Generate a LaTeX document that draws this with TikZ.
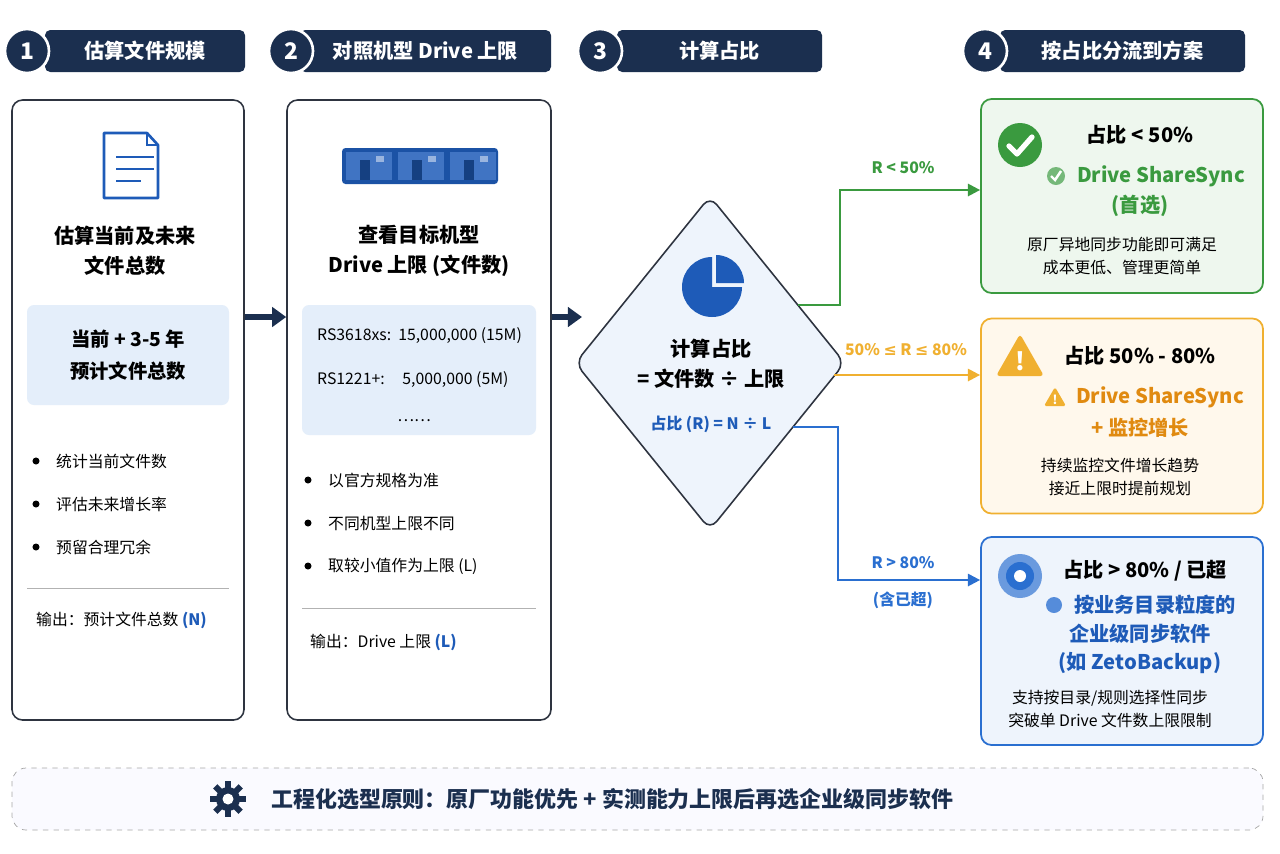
\documentclass[tikz,border=0pt]{standalone}
\usepackage{fontspec}
\setmainfont{Noto Sans CJK SC}
\newfontfamily\dejavu{DejaVu Sans}
\usetikzlibrary{shapes.geometric,arrows.meta}
\definecolor{navy}{HTML}{1B2F4F}
\definecolor{bord}{HTML}{2E3440}
\definecolor{lblue}{HTML}{E4EEFA}
\definecolor{mblue}{HTML}{1E5BB8}
\definecolor{gr}{HTML}{3A9A3F}
\definecolor{grf}{HTML}{EEF7EE}
\definecolor{og}{HTML}{F0B030}
\definecolor{ogt}{HTML}{E08A10}
\definecolor{ogf}{HTML}{FFF8EC}
\definecolor{bl}{HTML}{2A6FD0}
\definecolor{blf}{HTML}{EEF4FC}
\begin{document}
\begin{tikzpicture}[x=0.02cm,y=-0.02cm,
 badge/.style={circle,fill=navy,text=white,minimum size=44*0.02cm,inner sep=0pt,font=\fontsize{13}{15}\selectfont\bfseries},
 hbox/.style={fill=navy,text=white,rounded corners=3pt,minimum height=42*0.02cm,font=\fontsize{11.5}{14}\selectfont\bfseries},
 col/.style={draw=bord,line width=0.9pt,rounded corners=6pt,fill=white},
 ttl/.style={font=\fontsize{11.5}{14}\selectfont\bfseries,align=center},
 txt/.style={font=\fontsize{9}{11}\selectfont,anchor=west},
 ctr/.style={font=\fontsize{9}{11}\selectfont,align=center},
 bul/.style={circle,fill=black,inner sep=0pt,minimum size=4pt},
 big/.style={line width=3pt,navy,-{Triangle[length=8pt,width=11pt]}},
 con/.style={line width=1.3pt,-{Triangle[length=7pt,width=7pt]}},
 lab/.style={font=\fontsize{9}{11}\selectfont\bfseries}]
\useasboundingbox (0,0) rectangle (1280,853);
% headers
\foreach \cx/\bx/\ex/\n/\t [count=\i] in {27/45/245/1/估算文件规模,291/300/551/2/对照机型 Drive 上限,600/617/822/3/计算占比,985/1000/1245/4/按占比分流到方案}{
 \node[hbox,minimum width={(\ex-\bx)*0.02cm}] (h\i) at ({(\bx+\ex)/2},51) {\t};
 \node[badge,draw=white,line width=1.5pt] (b\i) at (\cx,51) {\n};
}
% column 1
\node[col,minimum width=232*0.02cm,minimum height=620*0.02cm] (c1) at (128,410) {};
\draw[mblue,line width=1.5pt,fill=white,line join=round] (104,133)--(147,133)--(158,145)--(158,198)--(104,198)--cycle;
\draw[mblue,line width=1.5pt] (147,133)--(147,145)--(158,145);
\foreach \y/\l in {157/38,169/38,181/25}\draw[mblue,line width=1.5pt] (116,\y)--++(\l,0);
\node[ttl] (t1) at (125,251) {估算当前及未来\\[3pt]文件总数};
\node[fill=lblue,rounded corners=4pt,minimum width=202*0.02cm,minimum height=100*0.02cm,ttl,font=\fontsize{11}{14}\selectfont\bfseries] (k1) at (128,355) {当前 + 3-5 年\\[4pt]预计文件总数};
\foreach \y/\t [count=\j] in {461/统计当前文件数,504/评估未来增长率,547/预留合理冗余}{\node[bul] (p1\j) at (36,\y){};\node[txt] at (50,\y){\t};}
\draw[gray!60] (27,588)--(229,588);
\node[txt] (o1) at (30,620) {输出：预计文件总数 \textcolor{mblue}{\bfseries(N)}};
% column 2
\node[col,minimum width=264*0.02cm,minimum height=620*0.02cm] (c2) at (419,410) {};
\fill[mblue!90!black,rounded corners=2pt] (342,148) rectangle (498,184);
\foreach \x in {346,398,450}{\fill[mblue!85] (\x,152) rectangle ++(46,28); \fill[mblue!70!black] (\x+14,160) rectangle ++(10,20); \fill[white!55!mblue] (\x+30,156) rectangle ++(8,6);}
\node[ttl] (t2) at (419,251) {查看目标机型\\[3pt]Drive 上限 (文件数)};
\node[fill=lblue,rounded corners=4pt,minimum width=234*0.02cm,minimum height=130*0.02cm] (k2) at (419,370) {};
\node[txt] at (311,336) {RS3618xs:\ \ 15,000,000 (15M)};
\node[txt] at (311,380) {RS1221+:\ \ \ \ \ 5,000,000 (5M)};
\node[ctr] at (414,421) {……};
\foreach \y/\t [count=\j] in {480/以官方规格为准,523/不同机型上限不同,566/取较小值作为上限 (L)}{\node[bul] (p2\j) at (308,\y){};\node[txt] at (322,\y){\t};}
\draw[gray!60] (302,608)--(536,608);
\node[txt] (o2) at (304,642) {输出：Drive 上限 \textcolor{mblue}{\bfseries(L)}};
\draw[big] (c1.east |- 0,317) -- (c2.west |- 0,317);
% diamond
\node[diamond,draw=bord,line width=0.9pt,fill=blf,minimum width=270*0.02cm,minimum height=334*0.02cm,inner sep=0pt,rounded corners=6pt] (d) at (710,363) {};
\draw[big] (c2.east |- 0,317) -- (582,317);
\fill[mblue] (712,287) -- ++(0:30) arc (0:270:30)--cycle;
\fill[mblue] (716,283) -- ++(270:28) arc (270:360:28)--cycle;
\node[ttl] at (711,364) {计算占比\\[3pt]= 文件数 ÷ 上限};
\node[lab,mblue] at (711,424) {占比 (R) = N ÷ L};
% result boxes
\node[draw=gr,fill=grf,line width=1pt,rounded corners=6pt,minimum width=282*0.02cm,minimum height=194*0.02cm] (r1) at (1122,196) {};
\node[draw=og,fill=ogf,line width=1pt,rounded corners=6pt,minimum width=282*0.02cm,minimum height=195*0.02cm] (r2) at (1122,416) {};
\node[draw=bl,fill=blf,line width=1pt,rounded corners=6pt,minimum width=282*0.02cm,minimum height=208*0.02cm] (r3) at (1122,641) {};
\coordinate (g1) at (798,305); \coordinate (o0) at (834,375); \coordinate (u1) at (793,427);
\draw[con,gr] (g1) -- (840,305) -- (840,190) -- (r1.west |- 0,190);
\node[lab,gr] at (903,168) {R < 50\%};
\draw[con,og] (o0) -- (r2.west |- 0,375);
\node[lab,og] at (906,350) {50\% {\dejavu ≤} R {\dejavu ≤} 80\%};
\draw[con,bl] (u1) -- (838,427) -- (838,580) -- (r3.west |- 0,580);
\node[lab,bl] at (903,563) {R > 80\%};
\node[lab,bl] at (903,600) {(含已超)};
% r1
\fill[gr] (1020,145) circle (22);
\draw[white,line width=3pt,line cap=round,line join=round] (1009,146)--(1017,154)--(1032,137);
\node[ttl] at (1140,135) {占比 < 50\%};
\fill[gr!70] (1056,176) circle (9); \draw[white,line width=1.4pt] (1051,176)--(1055,180)--(1061,171);
\node[ttl,gr,anchor=west] at (1071,176) {Drive ShareSync};
\node[ttl,gr] at (1140,206) {(首选)};
\node[ctr] at (1122,256) {原厂异地同步功能即可满足\\[2pt]成本更低、管理更简单};
% r2
\fill[og,rounded corners=2pt] (1020,334)--(1044,376)--(996,376)--cycle;
\node[white,font=\fontsize{14}{14}\selectfont\bfseries] at (1020,361) {!};
\node[ttl] at (1140,356) {占比 50\% - 80\%};
\fill[og,rounded corners=1pt] (1055,387)--(1066,406)--(1044,406)--cycle;
\node[white,font=\fontsize{7}{7}\selectfont\bfseries] at (1055,400) {!};
\node[ttl,text=ogt,anchor=west] at (1070,397) {Drive ShareSync};
\node[ttl,text=ogt] at (1140,428) {+ 监控增长};
\node[ctr] at (1120,477) {持续监控文件增长趋势\\[2pt]接近上限时提前规划};
% r3
\fill[bl!70] (1020,576) circle (22); \fill[bl] (1020,576) circle (14); \fill[white] (1020,576) circle (6);
\node[ttl] at (1145,571) {占比 > 80\% / 已超};
\fill[bl!80] (1054,605) circle (8);
\node[ttl,mblue,anchor=west] at (1068,605) {按业务目录粒度的};
\node[ttl,mblue] at (1140,634) {企业级同步软件};
\node[ttl,mblue] at (1140,663) {(如 ZetoBackup)};
\node[ctr] at (1110,709) {支持按目录/规则选择性同步\\[2pt]突破单 Drive 文件数上限限制};
% bottom
\node[draw=gray!70,dashed,fill=blue!2,rounded corners=8pt,minimum width=1251*0.02cm,minimum height=62*0.02cm] (bot) at (637.5,799) {};
\foreach \a in {0,45,...,315}\fill[navy,rotate around={\a:(228,799)}] (225,781) rectangle (231,789);
\fill[navy] (228,799) circle (12); \fill[white] (228,799) circle (5.5);
\node[font=\fontsize{12.5}{15}\selectfont\bfseries,navy,anchor=west] at (265,799) {工程化选型原则：原厂功能优先 + 实测能力上限后再选企业级同步软件};
\end{tikzpicture}
\end{document}
